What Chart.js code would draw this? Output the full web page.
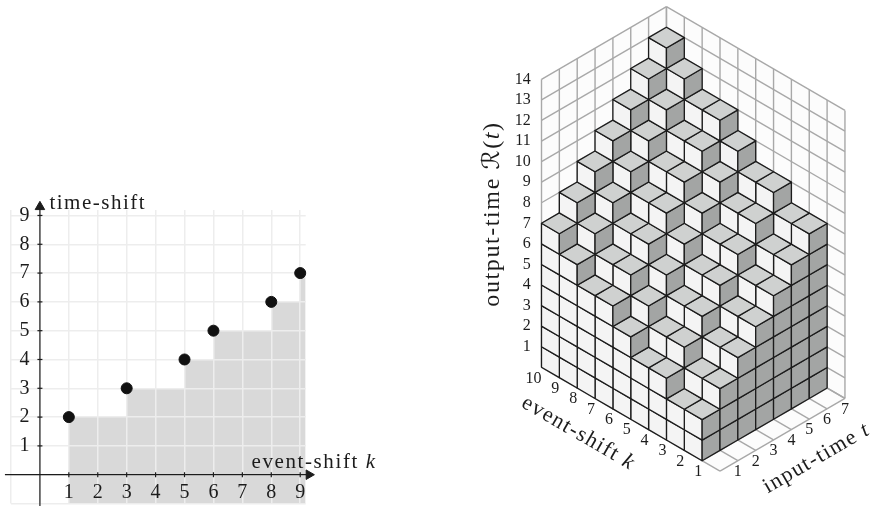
<!DOCTYPE html>
<html>
<head>
  <script src="https://cdn.jsdelivr.net/npm/chart.js"></script>
  <style>
    html, body { margin: 0; padding: 0; background: #fff; overflow: hidden; }
    canvas { position: absolute; }
    #shiftChart { left: 0; top: 180px; }
    #cubeChart { left: 480px; top: 0; }
  </style>
</head>
<body>
  <canvas id="shiftChart" width="400" height="330"></canvas>
  <canvas id="cubeChart" width="398" height="506"></canvas>

  <script>
    // left chart: time-shift against event-shift
    var eventShift = [1, 3, 5, 6, 8, 9];
    var timeShift = [2, 3, 4, 5, 6, 7];
    var xTickLabels = [1, 2, 3, 4, 5, 6, 7, 8, 9];
    var yTickLabels = [1, 2, 3, 4, 5, 6, 7, 8, 9];

    // right chart: output-time per input-time t = 1..7, one row per cell of event-shift
    var heightK1 = [2, 3, 4, 5, 6, 7, 8];
    var heightK2 = [2, 3, 4, 5, 6, 7, 8];
    var heightK3 = [3, 4, 5, 6, 7, 8, 9];
    var heightK4 = [3, 4, 5, 6, 7, 8, 9];
    var heightK5 = [4, 5, 6, 7, 8, 9, 10];
    var heightK6 = [5, 6, 7, 8, 9, 10, 11];
    var heightK7 = [5, 6, 7, 8, 9, 10, 11];
    var heightK8 = [6, 7, 8, 9, 10, 11, 12];
    var heightK9 = [7, 8, 9, 10, 11, 12, 13];
    var heights = [heightK1, heightK2, heightK3, heightK4, heightK5, heightK6, heightK7, heightK8, heightK9];
    var kLabels = [1, 2, 3, 4, 5, 6, 7, 8, 9, 10];
    var tLabels = [1, 2, 3, 4, 5, 6, 7];
    var zLabels = [1, 2, 3, 4, 5, 6, 7, 8, 9, 10, 11, 12, 13, 14];

    var SERIF = '"Liberation Serif", serif';
    var INK = '#1c1c1c';

    // centre axis boxes must not eat into the chart area
    function noBoxX(s) { s.height = 0; s.paddingLeft = 0; s.paddingRight = 0; s.paddingTop = 0; s.paddingBottom = 0; }
    function noBoxY(s) { s.width = 0; s.paddingLeft = 0; s.paddingRight = 0; s.paddingTop = 0; s.paddingBottom = 0; }

    // draws "text" pieces one after the other, centred on (x, y), possibly rotated
    function drawRuns(ctx, runs, x, y, angle, spacing) {
      ctx.save();
      ctx.translate(x, y);
      ctx.rotate(angle);
      ctx.fillStyle = INK;
      ctx.textBaseline = 'middle';
      ctx.textAlign = 'left';
      ctx.letterSpacing = spacing + 'px';
      var total = 0;
      runs.forEach(function(r) { ctx.font = r.font; total += ctx.measureText(r.text).width; });
      var pos = -total / 2;
      runs.forEach(function(r) {
        ctx.font = r.font;
        ctx.fillText(r.text, pos, 0);
        pos += ctx.measureText(r.text).width;
      });
      ctx.restore();
    }

    var shiftTitles = {
      id: 'shiftTitles',
      afterDraw: function(chart) {
        var c = chart.ctx, sx = chart.scales.x, sy = chart.scales.y;
        drawRuns(c, [{ text: 'time-shift', font: '21px ' + SERIF }], sx.getPixelForValue(2.0), sy.getPixelForValue(9.42), 0, 1.5);
        drawRuns(c, [{ text: 'event-shift ', font: '21px ' + SERIF }, { text: 'k', font: 'italic 21px ' + SERIF }],
          sx.getPixelForValue(9.48), sy.getPixelForValue(0.44), 0, 1.6);
      }
    };

    new Chart(document.getElementById('shiftChart'), {
      type: 'scatter',
      data: {
        datasets: [
          { // the dots
            data: eventShift.map(function(k, i) { return { x: k, y: timeShift[i] }; }),
            backgroundColor: '#111', borderColor: '#111', pointRadius: 5.5, clip: false
          },
          { // arrow heads
            data: [{ x: 9.3, y: 0 }], pointStyle: 'triangle', rotation: 90, pointRadius: 5.5,
            backgroundColor: INK, borderColor: INK, clip: false
          },
          {
            data: [{ x: 0, y: 9.3 }], pointStyle: 'triangle', rotation: 0, pointRadius: 5.5,
            backgroundColor: INK, borderColor: INK, clip: false
          },
          { // tick marks on the axes
            data: xTickLabels.map(function(k) { return { x: k, y: 0 }; }), pointStyle: 'line', rotation: 90,
            pointRadius: 2.5, borderColor: INK, borderWidth: 1.2, clip: false
          },
          {
            data: yTickLabels.map(function(v) { return { x: 0, y: v }; }), pointStyle: 'line', rotation: 0,
            pointRadius: 2.5, borderColor: INK, borderWidth: 1.2, clip: false
          },
          { // axis lines
            data: [{ x: -1.21, y: 0 }, { x: 9.3, y: 0 }], showLine: true, borderColor: INK, borderWidth: 1.2, pointRadius: 0, clip: false
          },
          {
            data: [{ x: 0, y: -1.1 }, { x: 0, y: 9.3 }], showLine: true, borderColor: INK, borderWidth: 1.2, pointRadius: 0, clip: false
          },
          { // grey staircase below the dots
            data: eventShift.map(function(k, i) { return { x: k, y: timeShift[i] }; }).concat([{ x: 9.19, y: 7 }]),
            showLine: true, stepped: 'before', borderWidth: 0, pointRadius: 0,
            fill: { value: -1 }, backgroundColor: '#d9d9d9'
          }
        ]
      },
      options: {
        responsive: false,
        animation: false,
        events: [],
        layout: { padding: { left: 11, right: 94.3, top: 30, bottom: 1.6 } },
        plugins: { legend: { display: false }, tooltip: { enabled: false }, filler: { drawTime: 'beforeDraw' } },
        scales: {
          x: {
            type: 'linear', min: -1, max: 9.19, position: { y: 0 },
            afterFit: noBoxX,
            grid: { color: '#ededed', lineWidth: 1.5, drawTicks: false },
            border: { display: false },
            ticks: {
              stepSize: 1, includeBounds: false, autoSkip: false, maxRotation: 0, padding: 6, color: INK,
              font: { family: SERIF, size: 20 },
              callback: function(v) { return xTickLabels.indexOf(v) >= 0 ? String(v) : ''; }
            }
          },
          y: {
            type: 'linear', min: -1, max: 9.19, position: { x: -0.36 },
            afterFit: noBoxY,
            grid: { color: '#ededed', lineWidth: 1.5, drawTicks: false },
            border: { display: false },
            ticks: {
              stepSize: 1, includeBounds: false, autoSkip: false, padding: 0, color: INK,
              font: { family: SERIF, size: 20 },
              callback: function(v) { return yTickLabels.indexOf(v) >= 0 ? String(v) : ''; }
            }
          }
        }
      },
      plugins: [shiftTitles]
    });

    // ---- right chart: oblique view. u = t - k, v = z + (k + t - 10) * ISO
    var ISO = 10.38 / 20.57;
    function proj(a, b, z) { return { x: b - a, y: z + (a + b - 10) * ISO }; }

    var CUBE_LINE = '#1c1c1c', WALL_LINE = '#a8a8a8';
    var TOP_FILL = '#cfd1d0', LIGHT_FILL = '#f4f4f4', DARK_FILL = '#a3a5a4', WALL_FILL = '#fcfcfc';

    function face(pts, fill) {
      return {
        data: pts.concat([pts[0]]), showLine: true, fill: 'shape', backgroundColor: fill,
        borderColor: CUBE_LINE, borderWidth: 1.3, pointRadius: 0, borderJoinStyle: 'round'
      };
    }
    function wallFace(pts) {
      return { data: pts.concat([pts[0]]), showLine: true, fill: 'shape', backgroundColor: WALL_FILL, borderWidth: 0, pointRadius: 0 };
    }
    function wallLine(p, q) {
      return { data: [p, q], showLine: true, borderColor: WALL_LINE, borderWidth: 1.4, pointRadius: 0 };
    }

    var back = []; // painted first
    var KMAX = kLabels[kLabels.length - 1], TMAX = tLabels[tLabels.length - 1], ZMAX = zLabels[zLabels.length - 1];
    back.push(wallFace([proj(KMAX, 0, 0), proj(KMAX, TMAX, 0), proj(KMAX, TMAX, ZMAX), proj(KMAX, 0, ZMAX)]));
    back.push(wallFace([proj(0, TMAX, 0), proj(KMAX, TMAX, 0), proj(KMAX, TMAX, ZMAX), proj(0, TMAX, ZMAX)]));
    back.push(wallFace([proj(0, 0, 0), proj(KMAX, 0, 0), proj(KMAX, TMAX, 0), proj(0, TMAX, 0)]));
    var i, z;
    for (i = 0; i <= TMAX; i++) {
      back.push(wallLine(proj(KMAX, i, 0), proj(KMAX, i, ZMAX)));
      back.push(wallLine(proj(0, i, 0), proj(KMAX, i, 0)));
    }
    for (i = 0; i <= KMAX; i++) {
      back.push(wallLine(proj(i, TMAX, 0), proj(i, TMAX, ZMAX)));
      back.push(wallLine(proj(i, 0, 0), proj(i, TMAX, 0)));
    }
    zLabels.concat([0]).forEach(function(zv) {
      back.push(wallLine(proj(KMAX, 0, zv), proj(KMAX, TMAX, zv)));
      back.push(wallLine(proj(0, TMAX, zv), proj(KMAX, TMAX, zv)));
    });

    var cubes = [];
    heights.forEach(function(row, ki) {
      var a = ki + 1;
      row.forEach(function(h, ti) {
        var b = ti;
        // light face looks towards smaller t
        var lo = ti === 0 ? 0 : row[ti - 1];
        for (z = lo; z < h; z++) {
          cubes.push(face([proj(a, b, z), proj(a + 1, b, z), proj(a + 1, b, z + 1), proj(a, b, z + 1)], LIGHT_FILL));
        }
        // dark face looks towards smaller k
        lo = ki === 0 ? 0 : heights[ki - 1][ti];
        for (z = lo; z < h; z++) {
          cubes.push(face([proj(a, b, z), proj(a, b + 1, z), proj(a, b + 1, z + 1), proj(a, b, z + 1)], DARK_FILL));
        }
        cubes.push(face([proj(a, b, h), proj(a + 1, b, h), proj(a + 1, b + 1, h), proj(a, b + 1, h)], TOP_FILL));
      });
    });

    // first dataset ends up on top, so the walls go last
    var cubeDatasets = cubes.reverse().concat(back.reverse());

    var cubeLabels = {
      id: 'cubeLabels',
      afterDraw: function(chart) {
        var c = chart.ctx, sx = chart.scales.x, sy = chart.scales.y;
        function px(p) { return { x: sx.getPixelForValue(p.x), y: sy.getPixelForValue(p.y) }; }
        c.save();
        c.fillStyle = INK;
        c.font = '16px ' + SERIF;
        c.textBaseline = 'middle';
        c.textAlign = 'right';
        kLabels.forEach(function(k) {
          var p = px(proj(k, 0, 0));
          c.fillText(String(k), p.x, p.y + 11);
        });
        c.textAlign = 'center';
        tLabels.forEach(function(t) {
          var p = px(proj(0, t, 0));
          c.fillText(String(t), p.x, p.y + 11);
        });
        c.restore();
        var ang = 30.2 * Math.PI / 180;
        drawRuns(c, [{ text: 'event-shift ', font: '22px ' + SERIF }, { text: 'k', font: 'italic 22px ' + SERIF }], 578.3 - 480, 433.3, ang, 1.4);
        drawRuns(c, [{ text: 'input-time ', font: '22px ' + SERIF }, { text: 't', font: 'italic 22px ' + SERIF }], 816.7 - 480, 458.3, -ang, 1.4);
        drawRuns(c, [{ text: 'output-time ', font: '24px ' + SERIF }, { text: '\u211B', font: '24px "DejaVu Sans"' },
          { text: '(', font: '24px ' + SERIF }, { text: 't', font: 'italic 24px ' + SERIF }, { text: ')', font: '24px ' + SERIF }],
          493 - 480, 214, -Math.PI / 2, 1.6);
      }
    };

    new Chart(document.getElementById('cubeChart'), {
      type: 'scatter',
      data: { datasets: cubeDatasets },
      options: {
        responsive: false,
        animation: false,
        events: [],
        layout: { padding: 0 },
        plugins: { legend: { display: false }, tooltip: { enabled: false } },
        elements: { line: { tension: 0 } },
        scales: {
          x: { type: 'linear', display: false, min: -240 / 17.85, max: 158 / 17.85 },
          y: {
            type: 'linear', min: -138.7 / 20.57, max: 367.3 / 20.57, position: { x: -240 / 17.85 + 50.7 / 17.85 },
            afterFit: noBoxY,
            grid: { display: false, drawTicks: false },
            border: { display: false },
            ticks: {
              stepSize: 1, includeBounds: false, autoSkip: false, padding: 0, color: INK,
              font: { family: SERIF, size: 16 },
              callback: function(v) { return zLabels.indexOf(v) >= 0 ? String(v) : ''; }
            }
          }
        }
      },
      plugins: [cubeLabels]
    });
  </script>
</body>
</html>
